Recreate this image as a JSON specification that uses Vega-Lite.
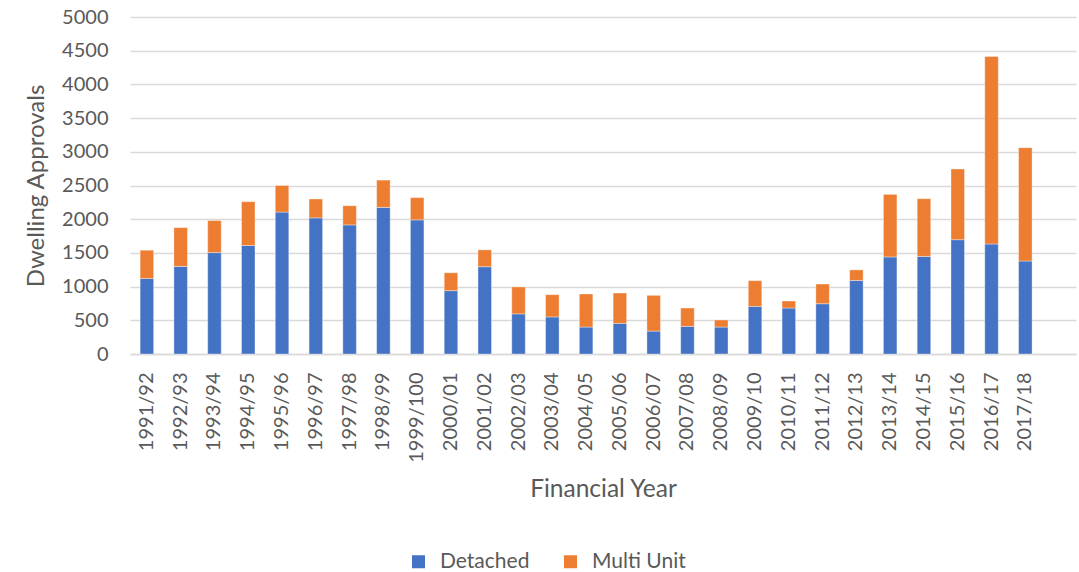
{
  "$schema": "https://vega.github.io/schema/vega-lite/v6.json",
  "autosize": {"type": "none"},
  "width": 946,
  "height": 337,
  "padding": {"left": 130, "top": 17, "right": 3, "bottom": 218},
  "background": "white",
  "config": {
    "view": {"stroke": null},
    "font": "Lato",
    "axis": {"labelColor": "#595959", "titleColor": "#595959", "labelFont": "Lato", "titleFont": "Lato", "titleFontWeight": "normal"}
  },
  "data": {
    "values": [
      {"year": "1991/92", "type": "Detached", "value": 1120},
      {"year": "1991/92", "type": "Multi Unit", "value": 420},
      {"year": "1992/93", "type": "Detached", "value": 1300},
      {"year": "1992/93", "type": "Multi Unit", "value": 575},
      {"year": "1993/94", "type": "Detached", "value": 1505},
      {"year": "1993/94", "type": "Multi Unit", "value": 475},
      {"year": "1994/95", "type": "Detached", "value": 1610},
      {"year": "1994/95", "type": "Multi Unit", "value": 650},
      {"year": "1995/96", "type": "Detached", "value": 2105},
      {"year": "1995/96", "type": "Multi Unit", "value": 395},
      {"year": "1996/97", "type": "Detached", "value": 2020},
      {"year": "1996/97", "type": "Multi Unit", "value": 280},
      {"year": "1997/98", "type": "Detached", "value": 1915},
      {"year": "1997/98", "type": "Multi Unit", "value": 285},
      {"year": "1998/99", "type": "Detached", "value": 2175},
      {"year": "1998/99", "type": "Multi Unit", "value": 405},
      {"year": "1999/100", "type": "Detached", "value": 1990},
      {"year": "1999/100", "type": "Multi Unit", "value": 330},
      {"year": "2000/01", "type": "Detached", "value": 940},
      {"year": "2000/01", "type": "Multi Unit", "value": 265},
      {"year": "2001/02", "type": "Detached", "value": 1295},
      {"year": "2001/02", "type": "Multi Unit", "value": 250},
      {"year": "2002/03", "type": "Detached", "value": 595},
      {"year": "2002/03", "type": "Multi Unit", "value": 400},
      {"year": "2003/04", "type": "Detached", "value": 550},
      {"year": "2003/04", "type": "Multi Unit", "value": 330},
      {"year": "2004/05", "type": "Detached", "value": 400},
      {"year": "2004/05", "type": "Multi Unit", "value": 490},
      {"year": "2005/06", "type": "Detached", "value": 455},
      {"year": "2005/06", "type": "Multi Unit", "value": 450},
      {"year": "2006/07", "type": "Detached", "value": 340},
      {"year": "2006/07", "type": "Multi Unit", "value": 530},
      {"year": "2007/08", "type": "Detached", "value": 410},
      {"year": "2007/08", "type": "Multi Unit", "value": 272},
      {"year": "2008/09", "type": "Detached", "value": 400},
      {"year": "2008/09", "type": "Multi Unit", "value": 105},
      {"year": "2009/10", "type": "Detached", "value": 707},
      {"year": "2009/10", "type": "Multi Unit", "value": 381},
      {"year": "2010/11", "type": "Detached", "value": 682},
      {"year": "2010/11", "type": "Multi Unit", "value": 104},
      {"year": "2011/12", "type": "Detached", "value": 746},
      {"year": "2011/12", "type": "Multi Unit", "value": 293},
      {"year": "2012/13", "type": "Detached", "value": 1092},
      {"year": "2012/13", "type": "Multi Unit", "value": 156},
      {"year": "2013/14", "type": "Detached", "value": 1440},
      {"year": "2013/14", "type": "Multi Unit", "value": 928},
      {"year": "2014/15", "type": "Detached", "value": 1448},
      {"year": "2014/15", "type": "Multi Unit", "value": 856},
      {"year": "2015/16", "type": "Detached", "value": 1696},
      {"year": "2015/16", "type": "Multi Unit", "value": 1049},
      {"year": "2016/17", "type": "Detached", "value": 1632},
      {"year": "2016/17", "type": "Multi Unit", "value": 2783},
      {"year": "2017/18", "type": "Detached", "value": 1380},
      {"year": "2017/18", "type": "Multi Unit", "value": 1681}
    ]
  },
  "mark": {"type": "bar", "stroke": "white", "strokeWidth": 0.6, "strokeOpacity": 0.6},
  "encoding": {
    "x": {
      "field": "year",
      "type": "nominal",
      "sort": null,
      "scale": {
        "domain": ["1991/92","1992/93","1993/94","1994/95","1995/96","1996/97","1997/98","1998/99","1999/100","2000/01","2001/02","2002/03","2003/04","2004/05","2005/06","2006/07","2007/08","2008/09","2009/10","2010/11","2011/12","2012/13","2013/14","2014/15","2015/16","2016/17","2017/18"," "],
        "paddingInner": 0.6,
        "paddingOuter": 0.3
      },
      "axis": {
        "title": "Financial Year",
        "titleFontSize": 24.5,
        "titleY": 135,
        "titleBaseline": "middle",
        "labelAngle": 270,
        "labelFontSize": 20,
        "labelPadding": 18,
        "ticks": false,
        "domainColor": "#D9D9D9",
        "domainWidth": 1.3,
        "grid": false
      }
    },
    "y": {
      "field": "value",
      "type": "quantitative",
      "aggregate": "sum",
      "stack": "zero",
      "scale": {"domain": [0, 5000], "nice": false},
      "axis": {
        "title": "Dwelling Approvals",
        "titleFontSize": 24,
        "titleX": -94,
        "titleY": 168.5,
        "titleBaseline": "middle",
        "titleAlign": "center",
        "values": [0,500,1000,1500,2000,2500,3000,3500,4000,4500,5000],
        "format": "d",
        "labelFontSize": 20,
        "labelPadding": 22,
        "ticks": false,
        "domain": false,
        "grid": true,
        "gridColor": "#D9D9D9",
        "gridWidth": 1.3
      }
    },
    "color": {
      "field": "type",
      "type": "nominal",
      "scale": {"domain": ["Detached", "Multi Unit"], "range": ["#4472C4", "#ED7D31"]},
      "legend": {
        "title": null,
        "orient": "none",
        "direction": "horizontal",
        "legendX": 278,
        "legendY": 534,
        "symbolType": "square",
        "symbolSize": 169,
        "symbolStrokeWidth": 0,
        "symbolOpacity": 1,
        "labelFontSize": 21,
        "labelFont": "Lato",
        "labelColor": "#595959",
        "labelOffset": 11,
        "columnPadding": 30,
        "padding": 0
      }
    },
    "order": {"field": "type", "type": "nominal", "sort": "ascending"}
  }
}
